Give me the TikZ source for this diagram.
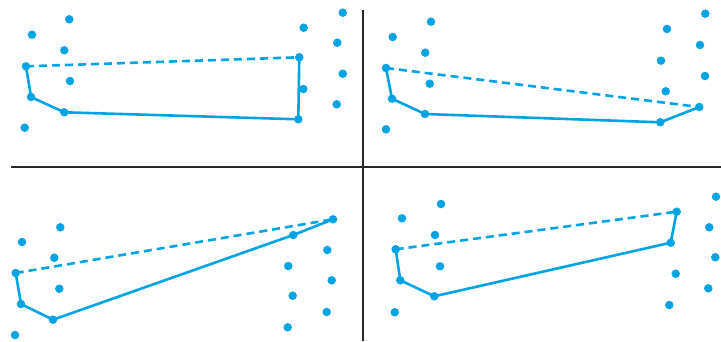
\documentclass[tikz,border=0pt]{standalone}
\definecolor{dotblue}{RGB}{0,164,228}
\definecolor{divgray}{RGB}{40,40,40}
\tikzset{
  pt/.style={circle,fill=dotblue,draw=none,inner sep=0pt,minimum size=8.5pt},
  hull/.style={draw=dotblue,line width=2.6pt,line join=round},
  bridge/.style={draw=dotblue,line width=2.6pt,dash pattern=on 8pt off 5pt},
  divider/.style={draw=divgray,line width=2pt}
}
\begin{document}
\begin{tikzpicture}[x=1pt,y=-1pt]
\useasboundingbox (0,0) rectangle (721,341);
% dividers
\coordinate (hl) at (11,167);
\coordinate (hr) at (721,167);
\coordinate (vt) at (362.5,10);
\coordinate (vb) at (362.5,341);
\path[divider] (hl) -- (hr);
\path[divider] (vt) -- (vb);
% ---------- Quadrant 1 ----------
\node[pt] (a1) at (69.3,19.3) {};
\node[pt] (a2) at (32,34.7) {};
\node[pt] (a3) at (64.3,50.3) {};
\node[pt] (a4) at (26,66.3) {};
\node[pt] (a5) at (70,81) {};
\node[pt] (a6) at (31,97) {};
\node[pt] (a7) at (64.3,112.3) {};
\node[pt] (a8) at (24.7,127.7) {};
\node[pt] (a9) at (342.7,12.7) {};
\node[pt] (a10) at (303.7,27.7) {};
\node[pt] (a11) at (337.3,42.7) {};
\node[pt] (a12) at (299.3,57.3) {};
\node[pt] (a13) at (342.7,73.7) {};
\node[pt] (a14) at (303.3,89) {};
\node[pt] (a15) at (336.7,104.3) {};
\node[pt] (a16) at (298.3,119.3) {};
\path[bridge] (a4.center) -- (a12.center);
\path[hull] (a4.center) -- (a6.center) -- (a7.center) -- (a16.center) -- (a12.center);
% ---------- Quadrant 2 ----------
\node[pt] (b1) at (431,21.7) {};
\node[pt] (b2) at (392.7,37) {};
\node[pt] (b3) at (425.3,52.7) {};
\node[pt] (b4) at (386,68) {};
\node[pt] (b5) at (429.7,83.7) {};
\node[pt] (b6) at (392,98.7) {};
\node[pt] (b7) at (425,114) {};
\node[pt] (b8) at (386,129.3) {};
\node[pt] (b9) at (705.3,13.7) {};
\node[pt] (b10) at (667,29) {};
\node[pt] (b11) at (700,45) {};
\node[pt] (b12) at (661,60.7) {};
\node[pt] (b13) at (705,76) {};
\node[pt] (b14) at (665.7,91.3) {};
\node[pt] (b15) at (699.3,107) {};
\node[pt] (b16) at (660.3,122.3) {};
\path[bridge] (b4.center) -- (b15.center);
\path[hull] (b4.center) -- (b6.center) -- (b7.center) -- (b16.center) -- (b15.center);
% ---------- Quadrant 3 ----------
\node[pt] (c1) at (60.3,227.3) {};
\node[pt] (c2) at (22,242) {};
\node[pt] (c3) at (54.3,257.7) {};
\node[pt] (c4) at (15.7,273) {};
\node[pt] (c5) at (59.3,288.7) {};
\node[pt] (c6) at (21,304) {};
\node[pt] (c7) at (53,319.7) {};
\node[pt] (c8) at (15,335) {};
\node[pt] (c9) at (333,219.3) {};
\node[pt] (c10) at (293.3,235) {};
\node[pt] (c11) at (327.3,250) {};
\node[pt] (c12) at (288.3,266) {};
\node[pt] (c13) at (331.7,280.3) {};
\node[pt] (c14) at (292.7,295.7) {};
\node[pt] (c15) at (326.7,312) {};
\node[pt] (c16) at (287.7,327.3) {};
\path[bridge] (c4.center) -- (c9.center);
\path[hull] (c4.center) -- (c6.center) -- (c7.center) -- (c10.center) -- (c9.center);
% ---------- Quadrant 4 ----------
\node[pt] (d1) at (441,204) {};
\node[pt] (d2) at (402,218.3) {};
\node[pt] (d3) at (435,235) {};
\node[pt] (d4) at (395.7,249.3) {};
\node[pt] (d5) at (440,266.3) {};
\node[pt] (d6) at (400.3,280.3) {};
\node[pt] (d7) at (434.3,296.3) {};
\node[pt] (d8) at (394.7,312.3) {};
\node[pt] (d9) at (716,196.7) {};
\node[pt] (d10) at (676.7,211.7) {};
\node[pt] (d11) at (709.3,227.3) {};
\node[pt] (d12) at (670.7,242.7) {};
\node[pt] (d13) at (715.3,257.3) {};
\node[pt] (d14) at (675.7,273.7) {};
\node[pt] (d15) at (708.3,288.3) {};
\node[pt] (d16) at (669.3,305) {};
\path[bridge] (d4.center) -- (d10.center);
\path[hull] (d4.center) -- (d6.center) -- (d7.center) -- (d12.center) -- (d10.center);
\end{tikzpicture}
\end{document}
